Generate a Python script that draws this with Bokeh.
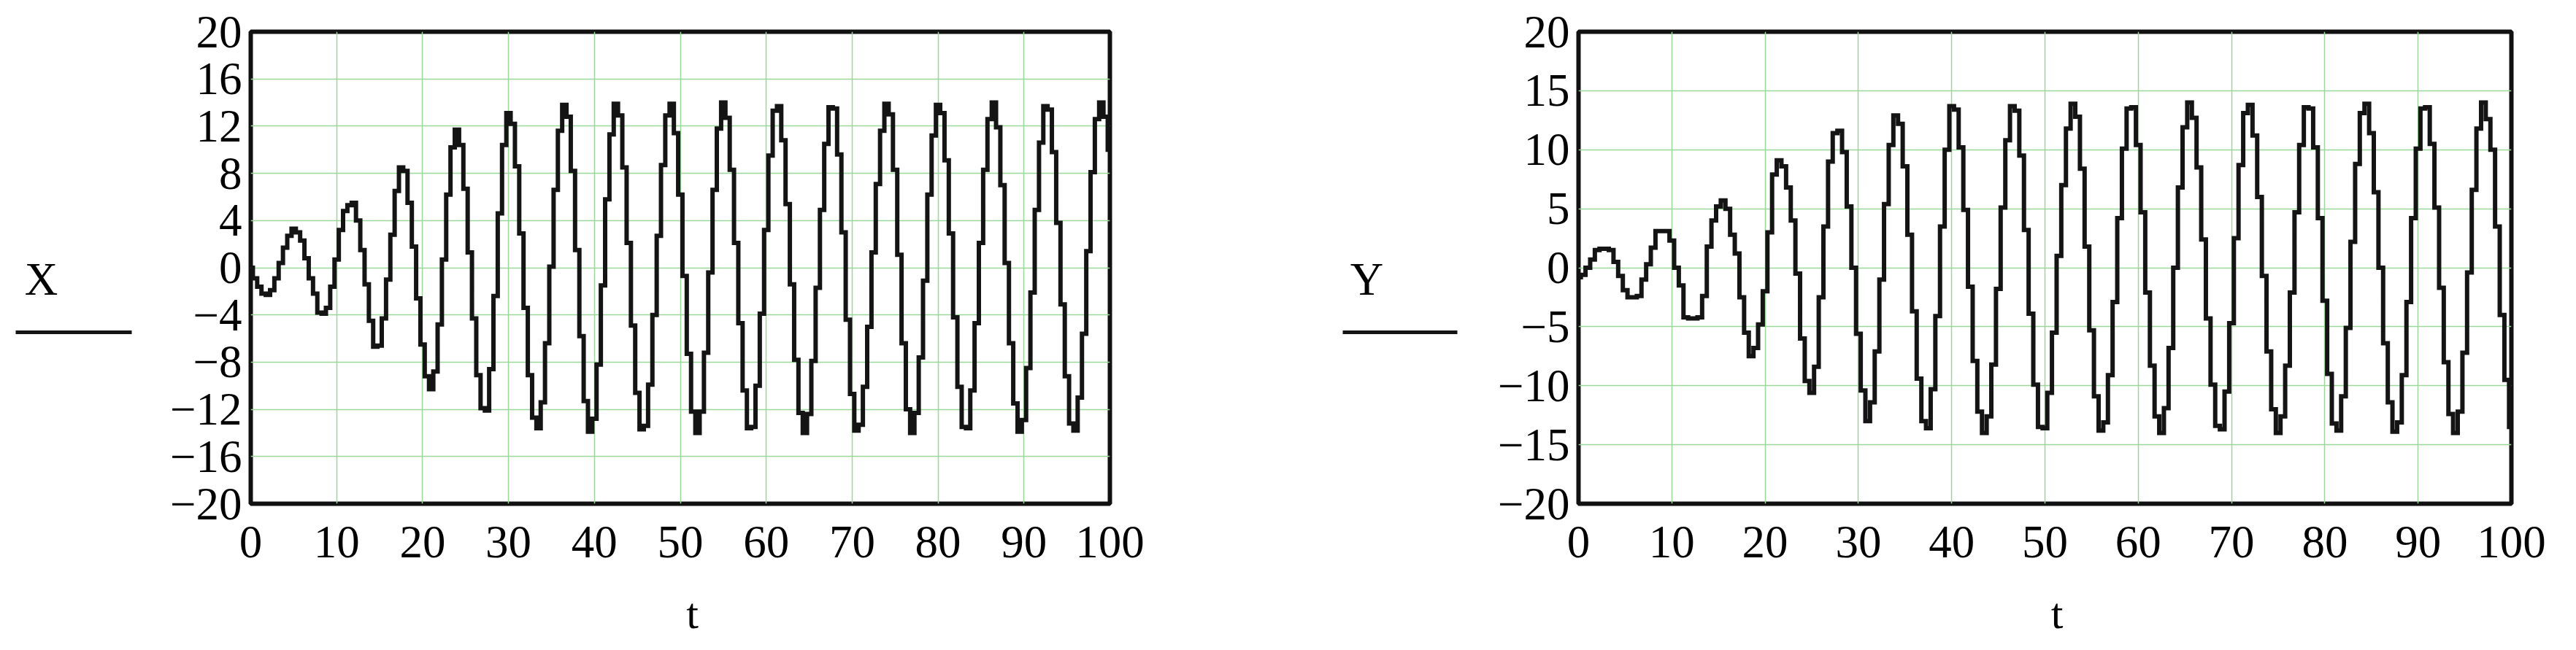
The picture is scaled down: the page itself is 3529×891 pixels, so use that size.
from bokeh.plotting import figure
from bokeh.layouts import row, column
from bokeh.models import Range1d, FixedTicker, CustomJSTickFormatter
from bokeh.core.properties import value
from bokeh.embed import file_html
from bokeh.resources import INLINE

T_STEP = 0.5

x_values = [
    0.0, -0.9, -1.6, -2.2, -2.3, -1.9, -0.9, 0.4, 1.7, 2.7,
    3.3, 3.0, 2.3, 0.8, -0.9, -2.2, -3.8, -3.9, -3.4, -1.6,
    0.7, 3.2, 4.8, 5.3, 5.5, 4.0, 1.5, -1.4, -4.5, -6.7,
    -6.6, -4.3, -1.0, 2.8, 6.5, 8.5, 8.2, 5.5, 1.8, -2.6,
    -6.5, -9.2, -10.3, -8.8, -4.8, 0.7, 6.2, 10.2, 11.7, 10.4,
    6.7, 1.3, -4.3, -9.1, -11.9, -12.1, -8.6, -2.4, 4.6, 10.4,
    13.1, 12.2, 8.6, 2.9, -3.4, -9.1, -12.7, -13.6, -11.4, -6.4,
    0.1, 6.6, 11.6, 13.8, 12.8, 8.2, 1.5, -5.8, -11.3, -13.9,
    -12.8, -8.2, -1.5, 5.8, 11.3, 13.9, 12.9, 8.5, 2.1, -4.9,
    -10.6, -13.7, -13.4, -9.9, -4.0, 2.7, 8.7, 12.9, 13.9, 11.4,
    6.2, -0.7, -7.3, -12.2, -14.0, -12.2, -7.2, -0.4, 6.6, 11.8,
    14.0, 12.7, 8.3, 2.1, -4.7, -10.4, -13.6, -13.5, -10.0, -3.9,
    3.2, 9.5, 13.3, 13.7, 10.8, 5.4, -1.4, -7.8, -12.3, -14.0,
    -12.4, -7.9, -1.7, 4.9, 10.5, 13.6, 13.5, 9.6, 3.0, -4.4,
    -10.7, -13.8, -13.3, -10.1, -5.0, 1.3, 7.1, 11.6, 13.9, 13.0,
    8.3, 1.1, -6.4, -12.0, -14.0, -12.3, -7.6, -1.1, 6.2, 11.2,
    13.8, 13.1, 9.1, 2.9, -4.2, -10.1, -13.5, -13.6, -10.4, -4.7,
    2.1, 8.3, 12.6, 14.0, 11.9, 7.0, 0.4, -6.4, -11.5, -13.9,
    -12.9, -8.5, -2.1, 4.9, 10.6, 13.7, 13.4, 9.8, 3.8, -3.1,
    -9.2, -13.2, -13.8, -11.0, -5.6, 1.4, 8.1, 12.6, 14.0, 12.8,
    10.0,
]

y_values = [
    -0.8, -0.6, 0.0, 0.7, 1.5, 1.6, 1.6, 1.5, 0.5, -0.7,
    -1.9, -2.5, -2.5, -2.4, -1.0, 0.3, 1.7, 3.1, 3.1, 3.1,
    2.3, 0.0, -1.5, -4.2, -4.3, -4.3, -4.2, -2.4, 1.8, 4.0,
    5.2, 5.7, 5.0, 2.8, 1.2, -2.5, -5.5, -7.5, -6.8, -4.8,
    -2.0, 3.0, 7.9, 9.1, 8.6, 6.8, 4.0, -0.5, -6.0, -9.6,
    -10.6, -8.4, -2.5, 3.5, 9.0, 11.4, 11.6, 9.8, 5.2, 0.0,
    -5.6, -10.4, -13.0, -11.4, -7.1, -1.0, 5.4, 10.4, 12.9, 12.2,
    8.6, 2.8, -3.7, -9.4, -13.0, -13.6, -10.3, -4.1, 3.5, 10.0,
    13.7, 13.4, 10.2, 4.9, -1.6, -7.9, -12.2, -14.0, -12.6, -8.2,
    -1.8, 5.1, 10.8, 13.7, 13.3, 9.5, 3.2, -3.9, -9.9, -13.5,
    -13.6, -10.6, -5.5, 1.0, 7.0, 11.8, 13.9, 12.8, 8.4, 1.8,
    -5.3, -10.9, -13.8, -13.1, -9.1, -2.9, 4.2, 10.1, 13.5, 13.6,
    10.4, 4.7, -2.1, -8.3, -12.6, -14.0, -11.9, -6.8, 0.0, 6.8,
    11.9, 14.0, 12.7, 8.5, 2.4, -4.3, -9.9, -13.4, -13.7, -10.5,
    -4.7, 2.5, 8.7, 13.1, 13.8, 11.2, 6.0, -0.7, -7.1, -12.0,
    -14.0, -12.6, -8.3, -2.1, 4.7, 10.4, 13.6, 13.5, 10.2, 4.2,
    -2.8, -9.0, -13.2, -13.8, -10.9, -5.1, 2.2, 8.8, 13.1, 13.9,
    11.4, 6.4, 0.0, -6.4, -11.4, -13.9, -13.1, -9.1, -2.9, 4.2,
    10.1, 13.5, 13.6, 10.5, 5.1, -1.7, -8.0, -12.4, -14.0, -12.2,
    -7.2, -0.4, 6.6, 11.8, 14.0, 12.6, 10.0, 3.5, -4.0, -9.5,
    -13.5,
]

t_values = [i * T_STEP for i in range(len(x_values))]

t_ticks = [0, 10, 20, 30, 40, 50, 60, 70, 80, 90, 100]
x_axis_ticks = [-20, -16, -12, -8, -4, 0, 4, 8, 12, 16, 20]
y_axis_ticks = [-20, -15, -10, -5, 0, 5, 10, 15, 20]

series_names = ["X", "Y"]
x_label = "t"

# ---------------- styling / layout ----------------
FONT = "Liberation Serif"
FS = "63px"
FS_T = "60px"
H_PLOT = 800          # upper row height (plots + tick labels)
H_T = 75              # lower row height (axis title "t")
B_TOP = 43
B_BOT = 110
FRAME_H = H_PLOT - B_TOP - B_BOT
TRACE = "#141414"
GRID = "#9ad89a"

W_LAB_X, W_PLOT_X, W_LAB_Y, W_PLOT_Y = 200, 1560, 252, 1501
BORDERS_X = (143, 240)
BORDERS_Y = (150, 73)


def blank_fig(width, height, x_range, y_range, bl=0, br=0, bt=0, bb=0):
    q = figure(width=width, height=height, x_range=x_range, y_range=y_range,
               min_border_left=bl, min_border_right=br,
               min_border_top=bt, min_border_bottom=bb,
               output_backend="svg", toolbar_location=None,
               x_axis_location=None, y_axis_location=None)
    q.grid.visible = False
    q.outline_line_color = None
    q.background_fill_color = "white"
    q.border_fill_color = "white"
    return q


def make_label_fig(name, width, text_x, line_x0, line_x1):
    q = blank_fig(width, H_PLOT, Range1d(0, width), Range1d(0, FRAME_H),
                  bt=B_TOP, bb=B_BOT)
    q.text(x=[text_x], y=[FRAME_H - 339], text=[name], text_font=value(FONT),
           text_font_size=FS, text_align="center", text_baseline="middle",
           text_color="black")
    q.segment(x0=[line_x0], y0=[FRAME_H - 412], x1=[line_x1], y1=[FRAME_H - 412],
              line_width=5, line_color=TRACE)
    return q


def make_title_fig(width, borders, t_x):
    q = blank_fig(width, H_T, Range1d(0, 100), Range1d(0, H_T),
                  bl=borders[0], br=borders[1])
    q.text(x=[t_x], y=[35], text=[x_label], text_font=value(FONT),
           text_font_size=FS_T, text_align="center", text_baseline="middle",
           text_color="black")
    return q


def make_plot(vals, yticks, width, borders):
    p = figure(width=width, height=H_PLOT, output_backend="svg", toolbar_location=None,
               x_range=Range1d(0, 100), y_range=Range1d(-20, 20),
               min_border_left=borders[0], min_border_right=borders[1],
               min_border_top=B_TOP, min_border_bottom=B_BOT)
    p.background_fill_color = "white"
    p.border_fill_color = "white"

    p.xaxis.ticker = FixedTicker(ticks=t_ticks)
    p.yaxis.ticker = FixedTicker(ticks=yticks)
    p.xgrid.ticker = FixedTicker(ticks=t_ticks)
    p.ygrid.ticker = FixedTicker(ticks=yticks)
    p.yaxis.formatter = CustomJSTickFormatter(
        code="return tick < 0 ? '\\u2212' + Math.abs(tick) : String(tick);")

    p.grid.grid_line_color = GRID
    p.grid.grid_line_width = 1.5
    p.grid.grid_line_alpha = 1.0

    p.axis.axis_line_color = None
    p.axis.major_tick_line_color = None
    p.axis.minor_tick_line_color = None
    p.axis.major_tick_in = 0
    p.axis.major_tick_out = 0
    p.axis.major_label_text_font = FONT
    p.axis.major_label_text_font_size = FS
    p.axis.major_label_text_color = "black"
    p.yaxis.major_label_standoff = 12
    p.xaxis.major_label_standoff = 31

    p.step(t_values, vals, mode="center", line_color=TRACE, line_width=6,
           line_join="miter")

    p.outline_line_color = "#111111"
    p.outline_line_width = 6
    p.outline_line_alpha = 1.0
    return p


top_row = row(
    make_label_fig(series_names[0], W_LAB_X, 56, 21, 180),
    make_plot(x_values, x_axis_ticks, W_PLOT_X, BORDERS_X),
    make_label_fig(series_names[1], W_LAB_Y, 112, 79, 236),
    make_plot(y_values, y_axis_ticks, W_PLOT_Y, BORDERS_Y),
)
bottom_row = row(
    blank_fig(W_LAB_X, H_T, Range1d(0, 1), Range1d(0, 1)),
    make_title_fig(W_PLOT_X, BORDERS_X, 51.4),
    blank_fig(W_LAB_Y, H_T, Range1d(0, 1), Range1d(0, 1)),
    make_title_fig(W_PLOT_Y, BORDERS_Y, 51.3),
)

layout = column(top_row, bottom_row)

open("out.html", "w").write(file_html(layout, INLINE))
